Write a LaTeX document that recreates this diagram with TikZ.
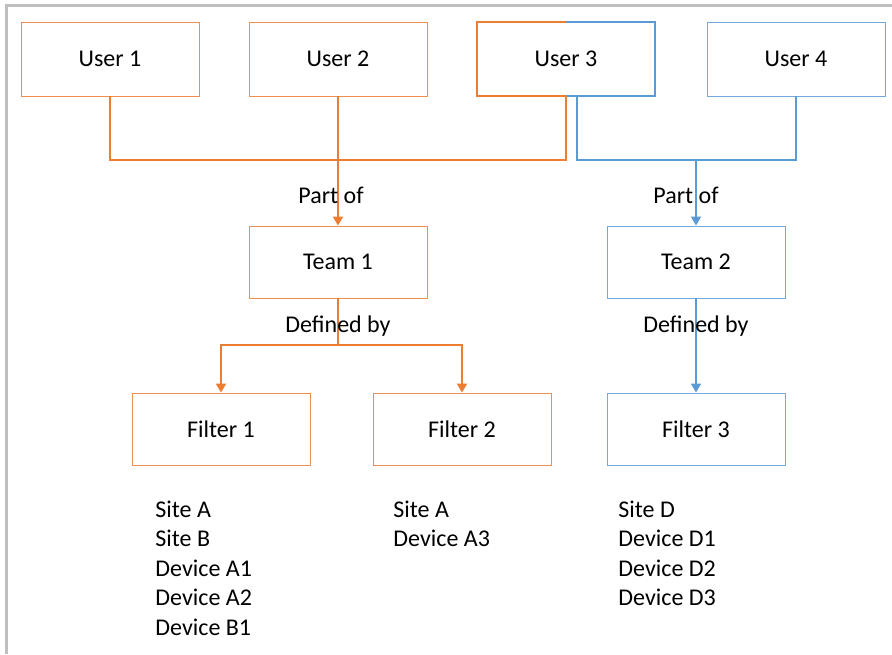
\documentclass[tikz,border=0pt]{standalone}
\usepackage{fontspec}
\setmainfont{Carlito}
\usepackage{tikz}
\usetikzlibrary{arrows.meta}
\definecolor{offorange}{HTML}{ED7D31}
\definecolor{offblue}{HTML}{5B9BD5}
\definecolor{framegray}{HTML}{BFBFBF}

\begin{document}
\begin{tikzpicture}[x=0.5pt,y=-0.5pt,
  font=\fontsize{12}{14}\selectfont,
  userbox/.style={minimum width=89pt,minimum height=37pt,inner sep=0pt,line width=0.45pt},
  teambox/.style={minimum width=89pt,minimum height=36pt,inner sep=0pt,line width=0.45pt},
  orangeline/.style={offorange,line width=1pt},
  blueline/.style={offblue,line width=0.8pt},
  tip/.style={-{Triangle[length=4.5pt,width=5pt]}},
  listitem/.style={anchor=base west,inner sep=0pt}]
\useasboundingbox (0,0) rectangle (892,654);
\draw [framegray, line width=1.5pt] (6,654) -- (6,5) -- (892,5);
% users
\node [userbox, draw=offorange!85] (u1) at (110,59) {User 1};
\node [userbox, draw=offorange!85] (u2) at (338,59) {User 2};
\node [userbox] (u3) at (566,59) {User 3};
\draw [offorange, line width=1pt] (u3.north) -- (u3.north west) -- (u3.south west) -- (u3.south);
\draw [offblue, line width=1pt] (u3.north) -- (u3.north east) -- (u3.south east) -- (u3.south);
\node [userbox, draw=offblue!85] (u4) at (796,59) {User 4};
% teams
\node [teambox, draw=offorange!85] (t1) at (338,262) {Team 1};
\node [teambox, draw=offblue!85] (t2) at (696,262) {Team 2};
% filters
\node [teambox, draw=offorange!85] (f1) at (221,429) {Filter 1};
\node [teambox, draw=offorange!85] (f2) at (462,429) {Filter 2};
\node [teambox, draw=offblue!85] (f3) at (696,429) {Filter 3};
% part of
\coordinate (bus1) at (338,160);
\coordinate (bus2) at (696,160);
\draw [orangeline] (u1.south) |- (u3.south |- bus1) -- (u3.south);
\draw [orangeline, tip] (u2.south) -- (t1.north);
\draw [blueline] ([xshift=5.5pt]u3.south) |- (u4.south |- bus2) -- (u4.south);
\draw [blueline, tip] (bus2) -- (t2.north);
\node (p1) at (331,195) {Part of};
\node (p2) at (686,195) {Part of};
% defined by
\coordinate (split1) at (338,345);
\draw [orangeline, tip] (t1.south) |- (f1.north |- split1) -- (f1.north);
\draw [orangeline, tip] (t1.south) |- (f2.north |- split1) -- (f2.north);
\draw [blueline, tip] (t2.south) -- (f3.north);
\node (d1) at (338,326) {Defined by};
\node (d2) at (696,326) {Defined by};
% filter contents
\node [listitem] (f1a) at (155,517) {Site A};
\node [listitem] (f1b) at (155,546.5) {Site B};
\node [listitem] (f1c) at (155,576) {Device A1};
\node [listitem] (f1d) at (155,605.5) {Device A2};
\node [listitem] (f1e) at (155,635) {Device B1};
\node [listitem] (f2a) at (393,517) {Site A};
\node [listitem] (f2b) at (393,546.5) {Device A3};
\node [listitem] (f3a) at (618,517) {Site D};
\node [listitem] (f3b) at (618,546.5) {Device D1};
\node [listitem] (f3c) at (618,576) {Device D2};
\node [listitem] (f3d) at (618,605.5) {Device D3};
\end{tikzpicture}
\end{document}
